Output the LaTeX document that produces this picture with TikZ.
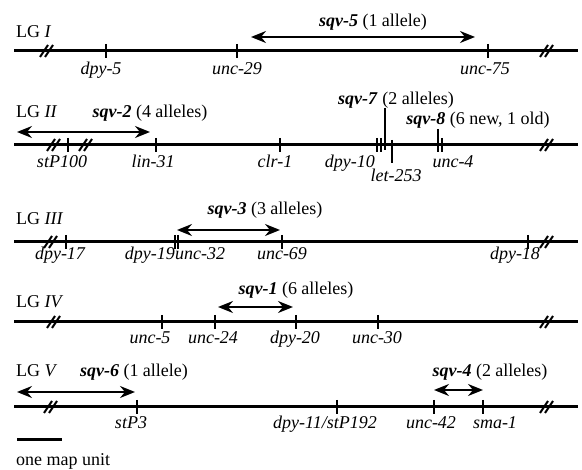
\documentclass[tikz,border=0pt]{standalone}
\usepackage{fontspec}
\setmainfont{Liberation Serif}
\usetikzlibrary{arrows.meta,positioning}

\tikzset{
  chrom/.style={line width=3pt},
  gtick/.style={line width=1.3pt},
  brk/.style={line width=2pt},
  gname/.style={font=\fontsize{18}{20}\selectfont\itshape, inner sep=0pt, anchor=base},
  lgname/.style={font=\fontsize{18}{20}\selectfont, inner sep=0pt, anchor=base west},
  sqvname/.style={font=\fontsize{18}{20}\selectfont, inner sep=0pt, anchor=base},
  sqvspan/.style={line width=2pt,
    {Stealth[length=15pt,width=12pt,inset=5pt]}-{Stealth[length=15pt,width=12pt,inset=5pt]}},
  chrombreak/.pic={\draw[brk] (-7,6) -- (1,-6) (-2,6) -- (6,-6);}
}
\newcommand{\sqv}[1]{\textbf{\textit{#1}}}

\begin{document}
\begin{tikzpicture}[x=1pt,y=-1pt]
    \useasboundingbox (0,0) rectangle (582,470);

    % LG I
    \coordinate (lg1a) at (14,51);
    \coordinate (lg1b) at (578,51);
    \draw[chrom] (lg1a) -- (lg1b);
    \pic at (47,51) {chrombreak};
    \pic at (547,51) {chrombreak};
    \node[lgname] (lg1) at (16,38) {LG \textit{I}};
    \coordinate (dpy5) at (106,51);
    \coordinate (unc29) at (237,51);
    \coordinate (unc75) at (488,51);
    \draw[gtick] (dpy5) ++(0,-7) -- ++(0,14);
    \draw[gtick] (unc29) ++(0,-7) -- ++(0,14);
    \draw[gtick] (unc75) ++(0,-7) -- ++(0,14);
    \node[gname] (t-dpy5) at (101,75) {dpy-5};
    \node[gname] (t-unc29) at (237,75) {unc-29};
    \node[gname] (t-unc75) at (485,75) {unc-75};
    \coordinate (sqv5a) at (251,37);
    \coordinate (sqv5b) at (475,37);
    \draw[sqvspan] (sqv5a) -- (sqv5b);
    \node[sqvname] (t-sqv5) at (373,27) {\sqv{sqv-5} (1 allele)};

    % LG II
    \coordinate (lg2a) at (14,145);
    \coordinate (lg2b) at (578,145);
    \draw[chrom] (lg2a) -- (lg2b);
    \pic at (54,145) {chrombreak};
    \pic at (86,145) {chrombreak};
    \pic at (547,145) {chrombreak};
    \node[lgname] (lg2) at (16,118) {LG \textit{II}};
    \coordinate (stP100) at (68,145);
    \coordinate (lin31) at (156,145);
    \coordinate (clr1) at (280,145);
    \coordinate (dpy10) at (377,145);
    \coordinate (dpy10b) at (381,145);
    \coordinate (sqv7) at (385,145);
    \coordinate (let253) at (392,145);
    \coordinate (sqv8) at (438,145);
    \coordinate (unc4) at (442,145);
    \draw[gtick] (stP100) ++(0,-7) -- ++(0,14);
    \draw[gtick] (lin31) ++(0,-7) -- ++(0,14);
    \draw[gtick] (clr1) ++(0,-7) -- ++(0,14);
    \draw[gtick] (dpy10) ++(0,-7) -- ++(0,14);
    \draw[gtick] (dpy10b) ++(0,-7) -- ++(0,14);
    \draw[gtick] (unc4) ++(0,-7) -- ++(0,14);
    \draw[gtick] (sqv7) ++(0,-37) -- ++(0,42);
    \draw[gtick] (sqv8) ++(0,-16) -- ++(0,23);
    \draw[gtick] (let253) ++(0,-5) -- ++(0,23);
    \node[gname] (t-stP100) at (62,168) {stP100};
    \node[gname] (t-lin31) at (153,168) {lin-31};
    \node[gname] (t-clr1) at (275,168) {clr-1};
    \node[gname, anchor=base east] (t-dpy10) at (375,168) {dpy-10};
    \node[gname] (t-let253) at (396,182) {let-253};
    \node[gname] (t-unc4) at (453,168) {unc-4};
    \coordinate (sqv2a) at (17,132);
    \coordinate (sqv2b) at (150,132);
    \draw[sqvspan] (sqv2a) -- (sqv2b);
    \node[sqvname] (t-sqv2) at (150,118) {\sqv{sqv-2} (4 alleles)};
    \node[sqvname] (t-sqv7) at (396,105) {\sqv{sqv-7} (2 alleles)};
    \node[sqvname] (t-sqv8) at (478,125) {\sqv{sqv-8} (6 new, 1 old)};

    % LG III
    \coordinate (lg3a) at (14,242);
    \coordinate (lg3b) at (578,242);
    \draw[chrom] (lg3a) -- (lg3b);
    \pic at (51,242) {chrombreak};
    \pic at (547,242) {chrombreak};
    \node[lgname] (lg3) at (16,225) {LG \textit{III}};
    \coordinate (dpy17) at (66,242);
    \coordinate (dpy19) at (175,242);
    \coordinate (unc32) at (178,242);
    \coordinate (unc69) at (282,242);
    \coordinate (dpy18) at (528,242);
    \draw[gtick] (dpy17) ++(0,-7) -- ++(0,14);
    \draw[gtick] (dpy19) ++(0,-7) -- ++(0,14);
    \draw[gtick] (unc32) ++(0,-7) -- ++(0,14);
    \draw[gtick] (unc69) ++(0,-7) -- ++(0,14);
    \draw[gtick] (dpy18) ++(0,-7) -- ++(0,14);
    \node[gname] (t-dpy17) at (60,260) {dpy-17};
    \node[gname, anchor=base east] (t-dpy19) at (175,260) {dpy-19};
    \node[gname, anchor=base west] (t-unc32) at (175,260) {unc-32};
    \node[gname] (t-unc69) at (282,260) {unc-69};
    \node[gname] (t-dpy18) at (515,260) {dpy-18};
    \coordinate (sqv3a) at (177,230);
    \coordinate (sqv3b) at (280,230);
    \draw[sqvspan] (sqv3a) -- (sqv3b);
    \node[sqvname] (t-sqv3) at (265,215) {\sqv{sqv-3} (3 alleles)};

    % LG IV
    \coordinate (lg4a) at (14,322);
    \coordinate (lg4b) at (578,322);
    \draw[chrom] (lg4a) -- (lg4b);
    \pic at (54,322) {chrombreak};
    \pic at (547,322) {chrombreak};
    \node[lgname] (lg4) at (16,308) {LG \textit{IV}};
    \coordinate (unc5) at (162,322);
    \coordinate (unc24) at (215,322);
    \coordinate (dpy20) at (296,322);
    \coordinate (unc30) at (378,322);
    \draw[gtick] (unc5) ++(0,-7) -- ++(0,14);
    \draw[gtick] (unc24) ++(0,-7) -- ++(0,14);
    \draw[gtick] (dpy20) ++(0,-7) -- ++(0,14);
    \draw[gtick] (unc30) ++(0,-7) -- ++(0,14);
    \node[gname] (t-unc5) at (150,344) {unc-5};
    \node[gname] (t-unc24) at (213,344) {unc-24};
    \node[gname] (t-dpy20) at (295,344) {dpy-20};
    \node[gname] (t-unc30) at (377,344) {unc-30};
    \coordinate (sqv1a) at (218,307);
    \coordinate (sqv1b) at (293,307);
    \draw[sqvspan] (sqv1a) -- (sqv1b);
    \node[sqvname] (t-sqv1) at (296,295) {\sqv{sqv-1} (6 alleles)};

    % LG V
    \coordinate (lg5a) at (14,407);
    \coordinate (lg5b) at (578,407);
    \draw[chrom] (lg5a) -- (lg5b);
    \pic at (51,407) {chrombreak};
    \pic at (547,407) {chrombreak};
    \node[lgname] (lg5) at (16,377) {LG \textit{V}};
    \coordinate (stP3) at (137,407);
    \coordinate (dpy11) at (337,407);
    \coordinate (unc42) at (434,407);
    \coordinate (sma1) at (483,407);
    \draw[gtick] (stP3) ++(0,-7) -- ++(0,14);
    \draw[gtick] (dpy11) ++(0,-7) -- ++(0,14);
    \draw[gtick] (unc42) ++(0,-7) -- ++(0,14);
    \draw[gtick] (sma1) ++(0,-7) -- ++(0,14);
    \node[gname] (t-stP3) at (131,429) {stP3};
    \node[gname] (t-dpy11) at (325,429) {dpy-11/stP192};
    \node[gname] (t-unc42) at (431,429) {unc-42};
    \node[gname] (t-sma1) at (495,429) {sma-1};
    \coordinate (sqv6a) at (17,392);
    \coordinate (sqv6b) at (135,392);
    \draw[sqvspan] (sqv6a) -- (sqv6b);
    \node[sqvname] (t-sqv6) at (134,377) {\sqv{sqv-6} (1 allele)};
    \coordinate (sqv4a) at (434,390);
    \coordinate (sqv4b) at (483,390);
    \draw[sqvspan] (sqv4a) -- (sqv4b);
    \node[sqvname] (t-sqv4) at (490,377) {\sqv{sqv-4} (2 alleles)};

    % scale bar
    \coordinate (bara) at (17,440);
    \coordinate (barb) at (62,440);
    \draw[chrom] (bara) -- (barb);
    \node[lgname] (t-bar) at (16,466) {one map unit};
\end{tikzpicture}
\end{document}
